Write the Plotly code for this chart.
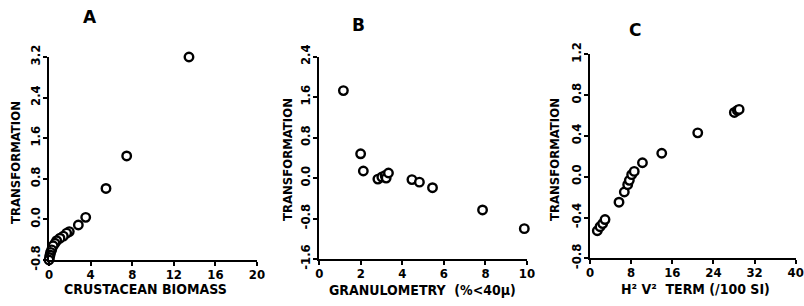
import plotly.graph_objects as go

W, H = 804, 306

# Panel A: crustacean biomass vs transformation
a_x = [13.46, 7.47, 5.48, 3.53, 2.82, 1.95, 1.70, 1.38, 1.06, 0.74, 0.58, 0.40, 0.26, 0.15, 0.10, 0.05, 0.0]
a_y = [3.20, 1.25, 0.61, 0.04, -0.11, -0.24, -0.27, -0.33, -0.37, -0.42, -0.47, -0.52, -0.60, -0.65, -0.70, -0.75, -0.80]

# Panel B: granulometry vs transformation
b_x = [1.16, 1.99, 2.12, 2.82, 3.01, 3.17, 3.22, 3.33, 4.46, 4.82, 5.45, 7.86, 9.87]
b_y = [1.73, 0.48, 0.14, -0.02, 0.02, 0.05, 0.00, 0.10, -0.03, -0.08, -0.19, -0.63, -1.00]

# Panel C: H V term vs transformation
c_x = [1.42, 1.95, 2.47, 2.92, 5.64, 6.67, 7.33, 7.65, 8.10, 8.60, 10.2, 13.95, 20.95, 28.07, 28.66, 29.0]
c_y = [-0.53, -0.49, -0.46, -0.42, -0.25, -0.15, -0.078, -0.036, 0.02, 0.052, 0.137, 0.23, 0.43, 0.63, 0.65, 0.66]

a_xticks = [0, 4, 8, 12, 16, 20]
a_yticks = [-0.8, 0.0, 0.8, 1.6, 2.4, 3.2]
b_xticks = [0, 2, 4, 6, 8, 10]
b_yticks = [-1.6, -0.8, 0.0, 0.8, 1.6, 2.4]
c_xticks = [0, 8, 16, 24, 32, 40]
c_yticks = [-0.8, -0.4, 0.0, 0.4, 0.8, 1.2]

panel_titles = ["A", "B", "C"]
x_titles = ["CRUSTACEAN BIOMASS", "GRANULOMETRY  (%<40µ)", "H² V²  TERM (/100 SI)"]
y_title = "TRANSFORMATION"

FONT = "DejaVu Sans Condensed"

def px(x):
    return x / W

def py(y):
    return 1 - y / H

# pixel boxes: left, right, top, bottom
boxes = [(49, 257, 57, 260), (319.3, 527, 56.7, 259), (590, 795.7, 54.3, 258.3)]

fig = go.Figure()
data = [(a_x, a_y), (b_x, b_y), (c_x, c_y)]
xt = [a_xticks, b_xticks, c_xticks]
yt = [a_yticks, b_yticks, c_yticks]

for i, ((xs, ys), (l, r, t, b)) in enumerate(zip(data, boxes)):
    n = "" if i == 0 else str(i + 1)
    fig.add_trace(go.Scatter(
        x=xs, y=ys, mode="markers", xaxis="x" + n, yaxis="y" + n,
        cliponaxis=False, showlegend=False, hoverinfo="skip",
        marker=dict(symbol="circle", size=8.5, color="white",
                    line=dict(color="black", width=2.4)),
    ))
    axis_common = dict(showgrid=False, zeroline=False, showline=True,
                       linecolor="black", linewidth=2, ticks="outside",
                       ticklen=4, tickwidth=2, tickcolor="black", automargin=False,
                       fixedrange=True,
                       tickfont=dict(family=FONT, size=13, color="black", weight="bold"))
    fig.update_layout(**{
        "xaxis" + n: dict(domain=[px(l), px(r)], anchor="y" + n,
                          range=[xt[i][0], xt[i][-1]], tickvals=xt[i],
                          ticktext=[str(v) for v in xt[i]], ticklabelstandoff=-3,
                          **axis_common),
        "yaxis" + n: dict(domain=[py(b), py(t)], anchor="x" + n,
                          range=[yt[i][0], yt[i][-1]], tickvals=yt[i],
                          ticktext=[f"{v:.1f}" for v in yt[i]], tickangle=-90,
                          ticklabelstandoff=-2, **axis_common),
    })

ann = []
title_pos = [(90, 17), (358, 25), (635, 30)]
xtitle_pos = [(145, 289), (422, 290), (695, 289)]
ytitle_pos = [(15, 163), (287, 160), (554, 160)]
for i in range(3):
    ann.append(dict(x=px(title_pos[i][0]), y=py(title_pos[i][1]), xref="paper", yref="paper",
                    xanchor="center", yanchor="middle",
                    text="<b>" + panel_titles[i] + "</b>", showarrow=False,
                    font=dict(family="DejaVu Sans", size=17, color="black")))
    ann.append(dict(x=px(xtitle_pos[i][0]), y=py(xtitle_pos[i][1]), xref="paper", yref="paper",
                    xanchor="center", yanchor="middle",
                    text=x_titles[i], showarrow=False,
                    font=dict(family=FONT, size=14, color="black", weight="bold")))
    ann.append(dict(x=px(ytitle_pos[i][0]), y=py(ytitle_pos[i][1]), xref="paper", yref="paper",
                    xanchor="center", yanchor="middle",
                    text=y_title, showarrow=False, textangle=-90,
                    font=dict(family=FONT, size=13, color="black", weight="bold")))

fig.update_layout(width=W, height=H,
                  margin=dict(l=0, r=0, t=0, b=0, pad=0, autoexpand=False),
                  paper_bgcolor="white", plot_bgcolor="white",
                  annotations=ann)

fig.write_html("out.html", config={"displayModeBar": False, "staticPlot": True},
               post_script="document.body.style.margin='0';document.body.style.overflow='hidden';")
